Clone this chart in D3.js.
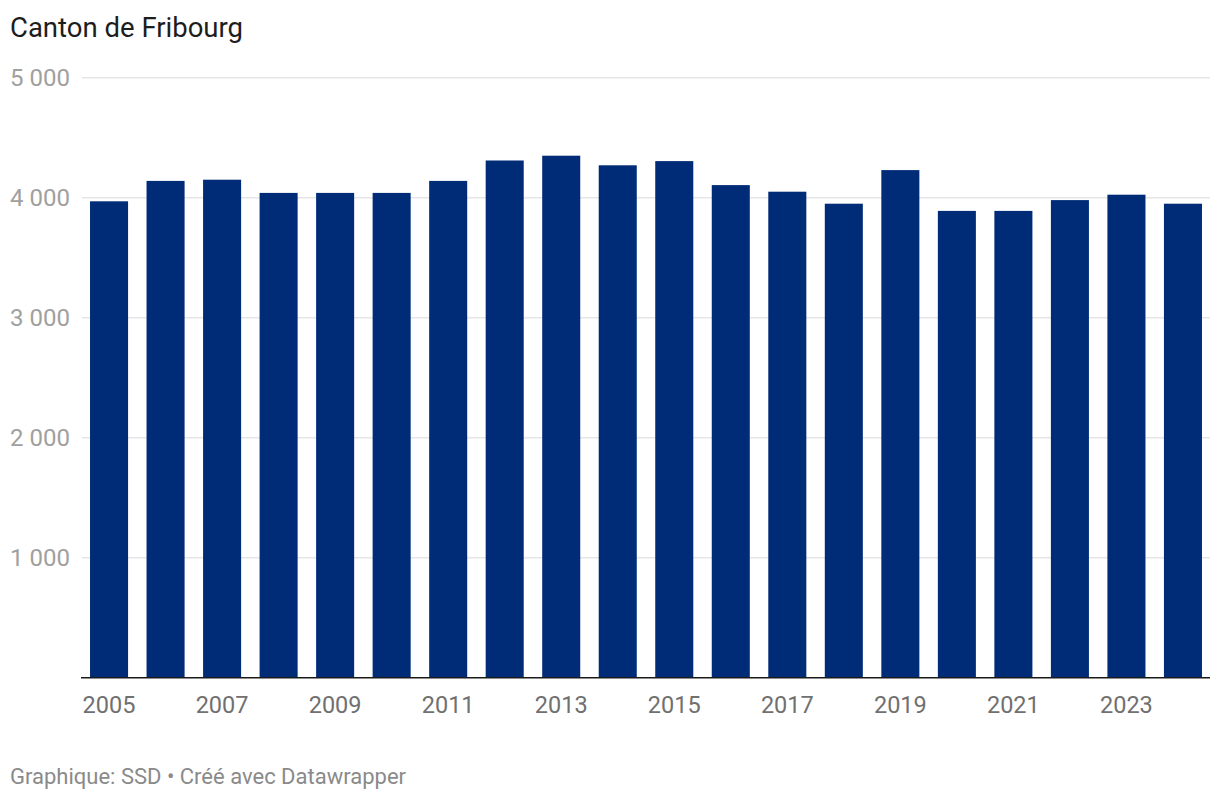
<!DOCTYPE html>
<html>
<head>
<meta charset="utf-8">
<script src="https://cdn.jsdelivr.net/npm/d3@7"></script>
<style>
  html, body { margin: 0; padding: 0; background: #fff; }
  svg { display: block; font-family: Roboto, "Noto Sans", sans-serif; }
</style>
</head>
<body>
<svg id="chart" width="1220" height="800"></svg>
<script>
const years = ["2005","2006","2007","2008","2009","2010","2011","2012","2013","2014","2015","2016","2017","2018","2019","2020","2021","2022","2023","2024"];
const values = [3970, 4140, 4150, 4040, 4040, 4040, 4140, 4310, 4350, 4270, 4305, 4105, 4050, 3950, 4230, 3890, 3890, 3980, 4025, 3950];
const yTicks = [1000, 2000, 3000, 4000, 5000];
const xTickLabels = ["2005","2007","2009","2011","2013","2015","2017","2019","2021","2023"];
const title = "Canton de Fribourg";
const footer = "Graphique: SSD \u2022 Créé avec Datawrapper";

const svg = d3.select("#chart");
const plotLeft = 82, plotRight = 1210, plotTop = 77.7, plotBottom = 677.7;

const x = d3.scaleBand().domain(years).range([plotLeft, plotRight]).paddingInner(0.327).paddingOuter(0.142);
const y = d3.scaleLinear().domain([0, 5000]).range([plotBottom, plotTop]);
const fmt = v => d3.format(",")(v).replace(/,/g, " ");

// title
svg.append("text").attr("x", 10).attr("y", 36.5).attr("font-size", 27.5)
  .attr("fill", "#1d1d1d").text(title);

// gridlines
svg.append("g").selectAll("line").data(yTicks).join("line")
  .attr("x1", plotLeft).attr("x2", plotRight)
  .attr("y1", d => y(d)).attr("y2", d => y(d))
  .attr("stroke", "#e6e6e6").attr("stroke-width", 1.5);

// y labels
svg.append("g").selectAll("text").data(yTicks).join("text")
  .attr("x", 10).attr("y", d => y(d) + 8)
  .attr("font-size", 24).attr("fill", "#a0a0a0")
  .text(d => fmt(d));

// bars
svg.append("g").selectAll("rect").data(years).join("rect")
  .attr("x", d => x(d)).attr("width", x.bandwidth())
  .attr("y", (d, i) => y(values[i]))
  .attr("height", (d, i) => y(0) - y(values[i]))
  .attr("fill", "#002b77");

// baseline
svg.append("line").attr("x1", plotLeft - 1).attr("x2", plotRight)
  .attr("y1", y(0)).attr("y2", y(0))
  .attr("stroke", "#1a1a1a").attr("stroke-width", 1.4);

// x labels
svg.append("g").selectAll("text").data(xTickLabels).join("text")
  .attr("x", d => x(d) + x.bandwidth() / 2).attr("y", 712.5)
  .attr("text-anchor", "middle").attr("font-size", 23.5).attr("fill", "#707070")
  .text(d => d);

// footer
svg.append("text").attr("x", 10).attr("y", 784).attr("font-size", 22)
  .attr("fill", "#8a8a8a").text(footer);
</script>
</body>
</html>
